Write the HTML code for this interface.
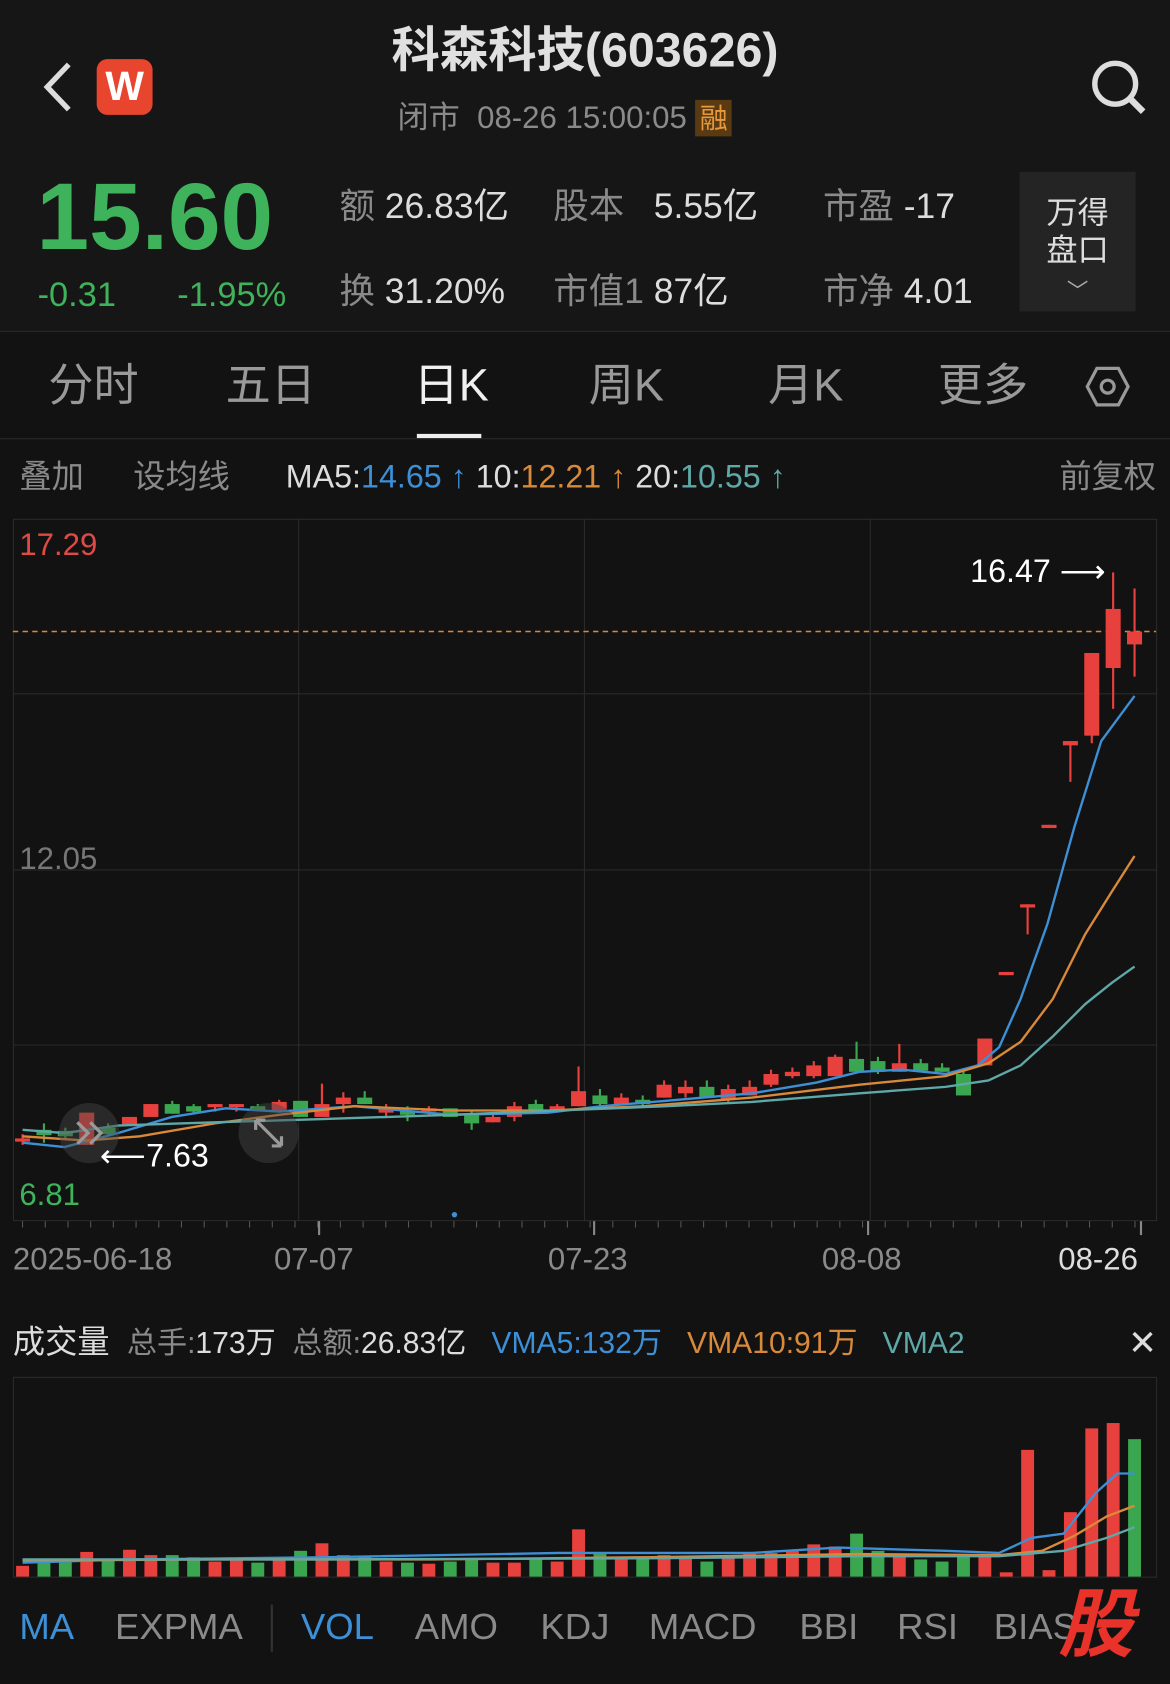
<!DOCTYPE html>
<html><head><meta charset="utf-8">
<style>
html,body{margin:0;padding:0;background:#121212;overflow:hidden}
#w{width:1089px;height:1568px;transform:scale(1.07438,1.07398);transform-origin:0 0;position:relative;background:#121212;font-family:"Liberation Sans","Noto Sans CJK SC",sans-serif;color:#ddd}
.a{position:absolute;white-space:nowrap;line-height:1}
.g{color:#8a8a8a}
</style></head><body><div id="w">
<div class="a" style="left:0;top:0;width:1089px;height:308px;background:#161616"></div>
<div class="a" style="left:0;top:24px;width:1089px;text-align:center;font-size:45px;font-weight:bold;color:#e0e0e0">科森科技(603626)</div>
<div class="a g" style="left:370px;top:96px;font-size:29px;color:#8a8a8a">闭市 &nbsp;08-26 15:00:05 <span style="background:#5a3a12;color:#e89a3a;padding:2px 4px;font-size:26px">融</span></div>
<svg class="a" style="left:36px;top:56px" width="40" height="50"><path d="M28 4 L8 25 L28 46" stroke="#ddd" stroke-width="5" fill="none"/></svg>
<div class="a" style="left:90px;top:55px;width:52px;height:52px;border-radius:10px;background:#e8452e;color:#fff;font-size:38px;font-weight:bold;text-align:center;line-height:52px">W</div>
<svg class="a" style="left:1012px;top:54px" width="60" height="56"><circle cx="26" cy="24" r="19" stroke="#ddd" stroke-width="5" fill="none"/><path d="M40 38 L52 50" stroke="#ddd" stroke-width="6"/></svg>
<div class="a" style="left:34px;top:158px;font-size:88px;font-weight:bold;color:#3eb35b">15.60</div>
<div class="a" style="left:35px;top:258px;font-size:32px;color:#3eb35b">-0.31</div>
<div class="a" style="left:165px;top:258px;font-size:32px;color:#3eb35b">-1.95%</div>
<div class="a" style="left:316px;top:175px;font-size:33px"><span class="g">额</span> 26.83亿</div>
<div class="a" style="left:515px;top:175px;font-size:33px"><span class="g">股本</span> &nbsp;&nbsp;5.55亿</div>
<div class="a" style="left:766px;top:175px;font-size:33px"><span class="g">市盈</span> -17</div>
<div class="a" style="left:316px;top:254px;font-size:33px"><span class="g">换</span> 31.20%</div>
<div class="a" style="left:515px;top:254px;font-size:33px"><span class="g">市值1</span> 87亿</div>
<div class="a" style="left:766px;top:254px;font-size:33px"><span class="g">市净</span> 4.01</div>
<div class="a" style="left:949px;top:160px;width:108px;height:130px;background:#242424;text-align:center;font-size:29px;line-height:35px;padding-top:22px;box-sizing:border-box">万得<br>盘口<br><span style="font-size:20px;color:#aaa">﹀</span></div>
<div class="a" style="left:0;top:308px;width:1089px;height:1px;background:#2a2a2a"></div>
<div class="a" style="left:45px;top:338px;font-size:42px;color:#999">分时</div>
<div class="a" style="left:210px;top:338px;font-size:42px;color:#999">五日</div>
<div class="a" style="left:385px;top:338px;font-size:42px;color:#f0f0f0">日K</div>
<div class="a" style="left:388px;top:404px;width:60px;height:4px;background:#eee"></div>
<div class="a" style="left:548px;top:338px;font-size:42px;color:#999">周K</div>
<div class="a" style="left:715px;top:338px;font-size:42px;color:#999">月K</div>
<div class="a" style="left:873px;top:338px;font-size:42px;color:#999">更多</div>
<svg class="a" style="left:1010px;top:340px" width="42" height="40"><polygon points="11,3 31,3 40,20 31,37 11,37 2,20" stroke="#999" stroke-width="3" fill="none"/><circle cx="21" cy="20" r="6" stroke="#999" stroke-width="3" fill="none"/></svg>
<div class="a" style="left:0;top:408px;width:1089px;height:1px;background:#2a2a2a"></div>
<div class="a g" style="left:18px;top:430px;font-size:30px">叠加</div>
<div class="a g" style="left:124px;top:430px;font-size:30px">设均线</div>
<div class="a" style="left:266px;top:430px;font-size:30px;color:#ddd">MA5:<span style="color:#3d8fd6">14.65 ↑</span> 10:<span style="color:#d8893a">12.21 ↑</span> 20:<span style="color:#5fa8a8">10.55 ↑</span></div>
<div class="a g" style="left:986px;top:430px;font-size:30px">前复权</div>
<svg id="ch" class="a" style="left:0;top:0" width="1089" height="1568"></svg>
<div class="a" style="left:18px;top:494px;font-size:29px;color:#e04a45">17.29</div>
<div class="a" style="left:18px;top:786px;font-size:29px;color:#777">12.05</div>
<div class="a" style="left:18px;top:1099px;font-size:29px;color:#3eb35b">6.81</div>
<div class="a" style="left:903px;top:518px;font-size:30px;color:#fff">16.47 ⟶</div>
<div class="a" style="left:93px;top:1062px;font-size:30px;color:#fff">⟵7.63</div>
<div class="a g" style="left:12px;top:1159px;font-size:29px">2025-06-18</div>
<div class="a g" style="left:255px;top:1159px;font-size:29px">07-07</div>
<div class="a g" style="left:510px;top:1159px;font-size:29px">07-23</div>
<div class="a g" style="left:765px;top:1159px;font-size:29px">08-08</div>
<div class="a" style="left:985px;top:1159px;font-size:29px;color:#ddd">08-26</div>
<div class="a" style="left:12px;top:1236px;font-size:30px;color:#ddd">成交量 <span class="g" style="font-size:28px">&nbsp;总手:</span><span style="font-size:28px">173万 </span><span class="g" style="font-size:28px">&nbsp;总额:</span><span style="font-size:28px">26.83亿 &nbsp;&nbsp;<span style="color:#3d8fd6">VMA5:132万</span> &nbsp;&nbsp;<span style="color:#d8893a">VMA10:91万</span> &nbsp;&nbsp;<span style="color:#5fa8a8">VMA2</span></span></div>
<div class="a" style="left:1050px;top:1234px;font-size:32px;color:#ddd">✕</div>
<div class="a" style="left:18px;top:1498px;font-size:34px;color:#3d8fd6">MA</div>
<div class="a g" style="left:107px;top:1498px;font-size:34px">EXPMA</div>
<div class="a" style="left:252px;top:1494px;width:2px;height:44px;background:#333"></div>
<div class="a" style="left:280px;top:1498px;font-size:34px;color:#3d8fd6">VOL</div>
<div class="a g" style="left:386px;top:1498px;font-size:34px">AMO</div>
<div class="a g" style="left:503px;top:1498px;font-size:34px">KDJ</div>
<div class="a g" style="left:604px;top:1498px;font-size:34px">MACD</div>
<div class="a g" style="left:744px;top:1498px;font-size:34px">BBI</div>
<div class="a g" style="left:835px;top:1498px;font-size:34px">RSI</div>
<div class="a g" style="left:925px;top:1498px;font-size:34px">BIAS</div>
<div class="a" style="left:985px;top:1478px;font-size:70px;font-weight:bold;color:#e8322a;font-style:italic">股</div>
</div>
<script>
var s=document.getElementById('ch'),h='';
function L(x1,y1,x2,y2,c,w,d){h+='<line x1="'+x1+'" y1="'+y1+'" x2="'+x2+'" y2="'+y2+'" stroke="'+c+'" stroke-width="'+(w||1)+'"'+(d?' stroke-dasharray="'+d+'"':'')+'/>';}
function R(x,y,w,hh,c){h+='<rect x="'+x+'" y="'+y+'" width="'+w+'" height="'+hh+'" fill="'+c+'"/>';}
h+='<rect x="12.5" y="483.5" width="1064" height="653" fill="none" stroke="#2a2a2a"/>';
[646,810,973].forEach(function(y){L(12,y,1076,y,'#2a2a2a')});
[278,544,810].forEach(function(x){L(x,483,x,1137,'#2a2a2a')});
L(12,588,1076,588,'#d8893a',1.3,'5,4');
for(var i=0;i<50;i++){var x=21+i*21.13;L(x,1137,x,1143,'#555');}
[297,553,808,1062].forEach(function(x){L(x,1137,x,1150,'#888',2)});
h+='<circle cx="423" cy="1131" r="2.5" fill="#3d8fd6"/>';
var R_='#e8403c',G_='#3aa64f';
var c=[['r',1060,1062,1056,1066],['g',1052,1057,1046,1064],['g',1053,1058,1050,1060],['r',1036,1066,1036,1066],['g',1050,1056,1046,1058],['r',1040,1047,1040,1047],
['r',1028,1040,1028,1040],['g',1028,1037,1025,1037],['g',1030,1035,1028,1036],['r',1028,1031,1028,1035],['r',1028,1031,1028,1035],['g',1030,1034,1028,1034],['r',1026,1034,1024,1034],['g',1025,1040,1025,1040],['r',1028,1040,1009,1040],['r',1022,1028,1017,1036],['g',1022,1028,1016,1028],
['r',1032,1036,1028,1040],['g',1034,1038,1030,1044],['r',1032,1035,1030,1038],['g',1032,1040,1032,1040],['g',1038,1046,1034,1052],['r',1040,1045,1036,1045],['r',1030,1040,1026,1044],['g',1028,1036,1024,1036],['r',1030,1034,1028,1036],
['r',1016,1030,993,1030],['g',1020,1028,1014,1030],['r',1022,1028,1018,1028],['g',1024,1028,1020,1030],['r',1010,1022,1006,1022],['r',1012,1018,1006,1022],['g',1012,1022,1006,1022],['r',1014,1024,1010,1026],['r',1012,1020,1006,1020],['r',1000,1010,996,1012],['r',998,1002,994,1004],['r',992,1002,988,1004],['r',984,1002,982,1002],['g',986,998,970,998],['g',988,998,984,1000],['r',990,998,972,998],['g',990,997,986,998],['g',994,998,990,998],['g',1000,1020,996,1020],
['r',967,992,967,992],['r',905,908,905,908],['r',842,845,842,870],['r',768,771,768,771],['r',690,694,690,728],['r',608,685,608,692],['r',567,622,533,660],['r',588,600,548,630]];
var n=c.length,xs=[];
for(var i=0;i<n;i++){var x=21+i*(1035/(n-1));xs.push(x);var d=c[i],col=d[0]=='r'?R_:G_;L(x,d[3],x,d[4],col,2);R(x-7,d[1],14,Math.max(3,d[2]-d[1]),col);}
function P(pts,col){h+='<polyline points="'+pts+'" fill="none" stroke="'+col+'" stroke-width="2.2"/>';}
P('21,1064 60,1068 110,1055 160,1040 210,1032 260,1035 330,1030 420,1038 510,1036 560,1030 620,1025 700,1018 760,1008 800,998 840,996 880,1000 910,992 930,975 950,930 975,860 1000,770 1025,690 1056,648','#3d8fd6');
P('21,1058 80,1062 130,1058 200,1046 260,1038 330,1030 420,1034 510,1034 600,1030 700,1022 800,1010 880,1002 920,990 950,970 980,930 1010,870 1035,830 1056,797','#d8893a');
P('21,1052 60,1055 110,1048 200,1045 300,1042 420,1038 520,1034 620,1030 700,1026 800,1018 880,1012 920,1006 950,992 980,965 1010,935 1035,915 1056,900','#5fa8a8');
h+='<circle cx="83" cy="1055" r="28" fill="rgba(70,70,70,0.45)"/><path d="M72 1045 L82 1055 L72 1065 M84 1045 L94 1055 L84 1065" stroke="#999" stroke-width="3" fill="none"/>';
h+='<circle cx="250" cy="1055" r="28" fill="rgba(70,70,70,0.45)"/><path d="M238 1043 L262 1067 M238 1043 L238 1052 M238 1043 L247 1043 M262 1067 L262 1058 M262 1067 L253 1067" stroke="#999" stroke-width="3" fill="none"/>';
h+='<rect x="12.5" y="1282.5" width="1064" height="186" fill="none" stroke="#2a2a2a"/>';
var vt=[1458,1452,1454,1445,1452,1443,1448,1448,1450,1454,1452,1455,1450,1444,1437,1448,1450,1454,1455,1456,1454,1452,1455,1455,1452,1454,1424,1446,1452,1452,1448,1450,1454,1448,1446,1446,1444,1438,1440,1428,1444,1448,1452,1454,1448,1448,1464,1350,1462,1408,1330,1325,1340];
for(var i=0;i<n;i++){var t=vt[i]||1450,col=(c[i][0]=='r'&&i!=n-1)?R_:G_;R(xs[i]-6,t,12,1468-t,col);}
P('21,1455 120,1452 300,1450 520,1446 560,1446 700,1446 780,1441 880,1444 930,1446 960,1432 990,1428 1020,1390 1040,1372 1056,1372','#3d8fd6');
P('21,1453 200,1452 400,1452 600,1450 800,1447 930,1448 970,1444 1000,1430 1030,1412 1056,1402','#d8893a');
P('21,1452 300,1452 600,1451 800,1449 930,1449 990,1444 1030,1432 1056,1422','#5fa8a8');
s.innerHTML=h;
</script>
</body></html>
